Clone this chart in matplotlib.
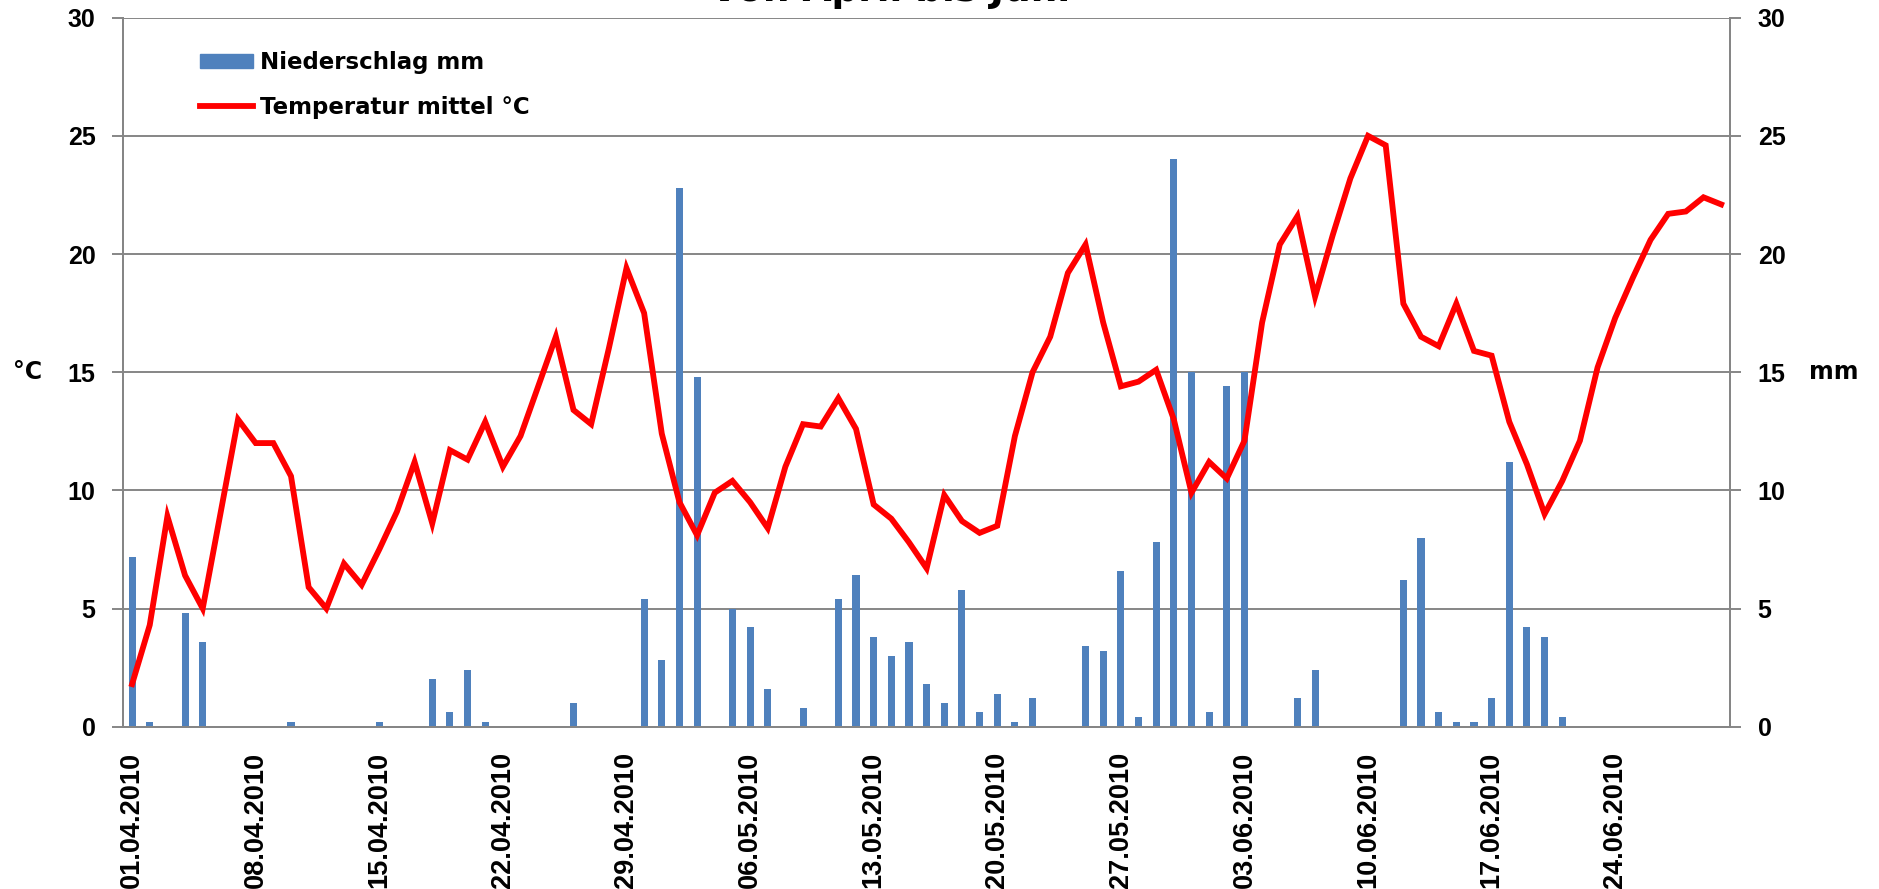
import numpy as np
import matplotlib
matplotlib.use('Agg')
import matplotlib.pyplot as plt
from matplotlib.patches import Patch
from matplotlib.lines import Line2D

# Tageswerte 01.04.2010 - 30.06.2010
niederschlag = [7.2, 0.2, 0, 4.8, 3.6, 0, 0, 0, 0, 0.2,
                0, 0, 0, 0, 0.2, 0, 0, 2.0, 0.6, 2.4,
                0.2, 0, 0, 0, 0, 1.0, 0, 0, 0, 5.4,
                2.8, 22.8, 14.8, 0, 5.0, 4.2, 1.6, 0, 0.8, 0,
                5.4, 6.4, 3.8, 3.0, 3.6, 1.8, 1.0, 5.8, 0.6, 1.4,
                0.2, 1.2, 0, 0, 3.4, 3.2, 6.6, 0.4, 7.8, 24.0,
                15.0, 0.6, 14.4, 15.0, 0, 0, 1.2, 2.4, 0, 0,
                0, 0, 6.2, 8.0, 0.6, 0.2, 0.2, 1.2, 11.2, 4.2,
                3.8, 0.4, 0, 0, 0, 0, 0, 0, 0, 0, 0]
temperatur = [1.8, 4.3, 8.9, 6.4, 5.0, 9.0, 13.0, 12.0, 12.0, 10.6,
              5.9, 5.0, 6.9, 6.0, 7.5, 9.1, 11.2, 8.6, 11.7, 11.3,
              12.9, 11.0, 12.3, 14.4, 16.5, 13.4, 12.8, 16.0, 19.4, 17.5,
              12.4, 9.5, 8.1, 9.9, 10.4, 9.5, 8.4, 11.0, 12.8, 12.7,
              13.9, 12.6, 9.4, 8.8, 7.8, 6.7, 9.8, 8.7, 8.2, 8.5,
              12.3, 15.0, 16.5, 19.2, 20.4, 17.1, 14.4, 14.6, 15.1, 13.0,
              9.9, 11.2, 10.5, 12.1, 17.1, 20.4, 21.6, 18.2, 20.8, 23.2,
              25.0, 24.6, 17.9, 16.5, 16.1, 17.9, 15.9, 15.7, 12.9, 11.1,
              9.0, 10.4, 12.1, 15.2, 17.3, 19.0, 20.6, 21.7, 21.8, 22.4, 22.1]
tick_labels = ['01.04.2010', '08.04.2010', '15.04.2010', '22.04.2010', '29.04.2010',
               '06.05.2010', '13.05.2010', '20.05.2010', '27.05.2010', '03.06.2010',
               '10.06.2010', '17.06.2010', '24.06.2010']

tage = np.arange(len(temperatur))
grau = '#868686'
tickfont = {'family': 'Liberation Sans', 'weight': 'bold', 'size': 18}

fig = plt.figure(figsize=(18.79, 8.89), dpi=100)
ax2 = fig.add_axes([0.0656, 0.1826, 0.8551, 0.7975])
ax = ax2.twinx()
ax.set_zorder(ax2.get_zorder() + 1)
ax.patch.set_visible(False)

# Niederschlag (rechte Achse), Gitter dahinter
ax2.bar(tage, niederschlag, width=0.4, color='#4F81BD', zorder=2)
ax2.set_axisbelow(True)
ax2.grid(axis='y', color=grau, linewidth=1.4)
ax.plot(tage, temperatur, color='#FF0000', linewidth=4.2, solid_joinstyle='miter')

for a in (ax, ax2):
    a.set_ylim(0, 30)
    a.set_yticks(range(0, 31, 5))
    a.set_xlim(-0.5, len(tage) - 0.5)
    for s in a.spines.values():
        s.set_color(grau)
        s.set_linewidth(1.4)
    a.spines['top'].set_visible(False)
    a.tick_params(axis='y', length=8, width=1.4, color=grau, pad=12)

ax2.yaxis.tick_right()
ax.yaxis.tick_left()
ax.set_yticklabels([str(v) for v in range(0, 31, 5)], fontdict=tickfont)
ax2.set_yticklabels([str(v) for v in range(0, 31, 5)], fontdict=tickfont)

ax2.set_xticks(tage[::7])
ax2.set_xticklabels(tick_labels, rotation=90,
                    family='Liberation Sans', weight='bold', size=19.5)
ax2.tick_params(axis='x', length=0, pad=18)
ax.tick_params(axis='x', bottom=False, labelbottom=False)

fig.text(0.0069, 0.581, '°C', family='DejaVu Sans', weight='bold', size=17,
         ha='left', va='center')
fig.text(0.963, 0.581, 'mm', family='DejaVu Sans', weight='bold', size=17,
         ha='left', va='center')
fig.text(0.4737, 1 - 1 / 889, 'Von April bis Juni', family='DejaVu Sans',
         weight='bold', size=27, ha='center', va='baseline')

handles = [Patch(color='#4F81BD'), Line2D([], [], color='#FF0000', linewidth=4.2)]
ax.legend(handles, ['Niederschlag mm', 'Temperatur mittel °C'], loc='upper left',
          bbox_to_anchor=(0.035, 0.982), frameon=False, handlelength=2.3,
          handleheight=0.55, handletextpad=0.3, labelspacing=0.95,
          prop={'family': 'DejaVu Sans', 'weight': 'bold', 'size': 16.5})

fig.savefig('out.png', dpi=100)
